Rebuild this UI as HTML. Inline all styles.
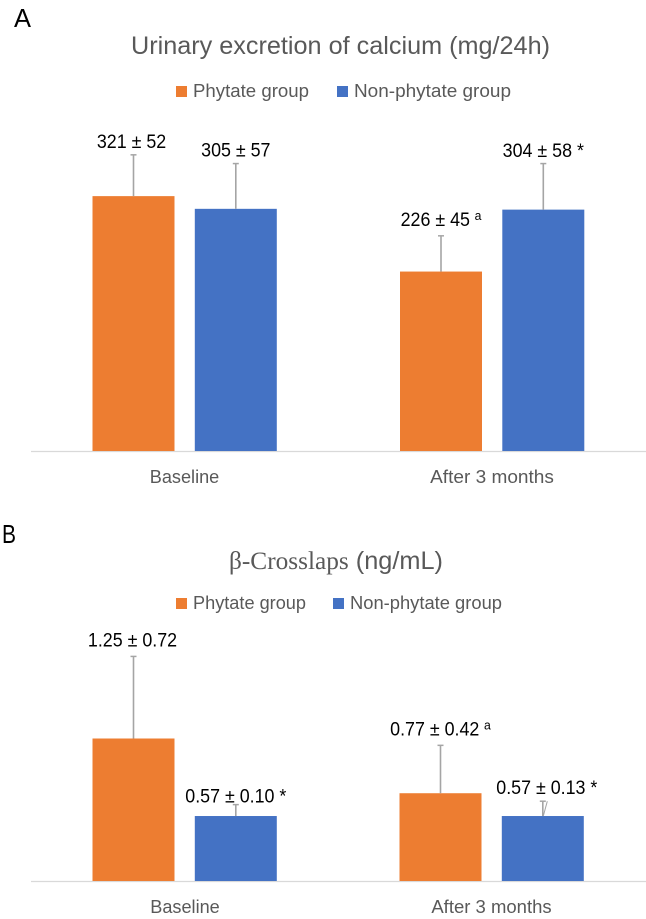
<!DOCTYPE html>
<html lang="en">
<head>
<meta charset="utf-8">
<title>Urinary calcium and β-Crosslaps</title>
<style>
  html, body { margin: 0; padding: 0; background: #fff; }
  svg { display: block; }
  text { font-family: "Liberation Sans", sans-serif; }
  .panel { font-size: 26px; fill: #000; }
  .title { font-size: 25px; fill: #595959; }
  .legend { font-size: 18.5px; fill: #595959; }
  .cat { font-size: 18.5px; fill: #595959; }
  .val { font-size: 19px; fill: #000; }
</style>
</head>
<body>
<svg id="figure" xmlns="http://www.w3.org/2000/svg" width="646" height="919" viewBox="0 0 646 919">
  <rect x="0" y="0" width="646" height="919" fill="#ffffff"/>

  <text class="panel" x="14" y="27" textLength="17" lengthAdjust="spacingAndGlyphs">A</text>
  <text class="title" x="131" y="54" textLength="419" lengthAdjust="spacingAndGlyphs">Urinary excretion of calcium (mg/24h)</text>
  <rect x="176" y="86" width="11" height="11" fill="#ed7d31"/>
  <text class="legend" x="193" y="97" textLength="116" lengthAdjust="spacingAndGlyphs">Phytate group</text>
  <rect x="337" y="86" width="11" height="11" fill="#4472c4"/>
  <text class="legend" x="354" y="97" textLength="157" lengthAdjust="spacingAndGlyphs">Non-phytate group</text>

  <text class="panel" x="2" y="543" textLength="14" lengthAdjust="spacingAndGlyphs">B</text>
  <text class="title" x="229" y="569" textLength="214" lengthAdjust="spacingAndGlyphs"><tspan style="font-family:'Liberation Serif',serif">β-Crosslaps</tspan> (ng/mL)</text>
  <rect x="176" y="598" width="11" height="11" fill="#ed7d31"/>
  <text class="legend" x="193" y="609" textLength="113" lengthAdjust="spacingAndGlyphs">Phytate group</text>
  <rect x="333" y="598" width="11" height="11" fill="#4472c4"/>
  <text class="legend" x="350" y="609" textLength="152" lengthAdjust="spacingAndGlyphs">Non-phytate group</text>
</svg>

<script>
// ---- data ----
const categories = ["Baseline", "After 3 months"];
const calciumPhytateMean = [321, 226];
const calciumPhytateSd = [52, 45];
const calciumNonPhytateMean = [305, 304];
const calciumNonPhytateSd = [57, 58];
const calciumPhytateMark = ["", "a"];
const calciumNonPhytateMark = ["", "*"];
const crosslapsPhytateMean = [1.25, 0.77];
const crosslapsPhytateSd = [0.72, 0.42];
const crosslapsNonPhytateMean = [0.57, 0.57];
const crosslapsNonPhytateSd = [0.10, 0.13];
const crosslapsPhytateMark = ["", "a"];
const crosslapsNonPhytateMark = ["*", "*"];

// ---- drawing ----
const NS = "http://www.w3.org/2000/svg";
const figure = document.getElementById("figure");

function make(tag, attrs) {
  const el = document.createElementNS(NS, tag);
  for (const k in attrs) el.setAttribute(k, attrs[k]);
  figure.appendChild(el);
  return el;
}

function drawChart(cfg) {
  const y = v => cfg.axisY - v * cfg.pxPerUnit;

  const axis = make("line", { x1: 31, x2: 646, y1: cfg.axisY + 0.5, y2: cfg.axisY + 0.5, stroke: "#d9d9d9", "stroke-width": 1.3 });
  
  

  categories.forEach((cat, c) => {
    const label = make("text", { class: "cat", "text-anchor": "middle", transform: "translate(" + cfg.catX[c] + "," + cfg.catY + ") scale(" + cfg.catScale[c] + ",1)" });
    label.textContent = cat;
    
    

    cfg.series.forEach((s, i) => {
      const mean = s.mean[c], sd = s.sd[c];
      const left = cfg.groupX[c] + i * cfg.step;
      const mid = left + cfg.barW / 2;
      const top = y(mean), errTop = y(mean + sd);

      const bar = make("rect", { x: left, y: top, width: cfg.barW, height: cfg.axisY - top, fill: s.color });
      
      

      const stem = make("line", { x1: mid, x2: mid, y1: top, y2: errTop, stroke: "#a5a5a5", "stroke-width": 1.6 });
      
      

      const cap = make("line", { x1: mid - 3, x2: mid + 3, y1: errTop, y2: errTop, stroke: "#a5a5a5", "stroke-width": 1.5 });
      
      

      if (cfg.strayTick && cfg.strayTick[0] === i && cfg.strayTick[1] === c) {
        const stray = make("line", { x1: mid + 0.5, x2: mid + 4.5, y1: top, y2: errTop, stroke: "#a5a5a5", "stroke-width": 1 });
        
        
      }

      const text = make("text", { class: "val", "text-anchor": "middle", transform: "translate(" + (mid + cfg.labelShift[i][c]) + "," + (errTop - cfg.labelLift[i][c]) + ") scale(0.94,1)" });
      
      
      const main = document.createElementNS(NS, "tspan");
      main.textContent = mean.toFixed(cfg.digits) + " ± " + sd.toFixed(cfg.digits);
      text.appendChild(main);
      const mark = s.mark[c];
      if (mark === "a") {
        const sup = document.createElementNS(NS, "tspan");
        sup.setAttribute("dy", "-6");
        sup.setAttribute("dx", "5");
        sup.setAttribute("font-size", "13");
        sup.textContent = mark;
        text.appendChild(sup);
      } else if (mark) {
        const star = document.createElementNS(NS, "tspan");
        star.textContent = " " + mark;
        text.appendChild(star);
      }
    });
  });
}

drawChart({
  id: "chart-a", axisY: 451, pxPerUnit: 0.794, digits: 0,
  groupX: [92.5, 400], step: 102.3, barW: 82,
  catX: [184.5, 492], catY: 483, catScale: [0.98, 1.03],
  labelLift: [[7, 10], [7, 6.5]],
  labelShift: [[-2, 0], [0, 0]],
  series: [
    { key: "phytate", color: "#ed7d31", mean: calciumPhytateMean, sd: calciumPhytateSd, mark: calciumPhytateMark },
    { key: "non-phytate", color: "#4472c4", mean: calciumNonPhytateMean, sd: calciumNonPhytateSd, mark: calciumNonPhytateMark }
  ]
});

drawChart({
  id: "chart-b", axisY: 881, pxPerUnit: 114, digits: 2,
  groupX: [92.5, 399.5], step: 102.3, barW: 82,
  catX: [185, 491.5], catY: 913, catScale: [0.98, 1.0],
  labelLift: [[10, 10], [2, 7]],
  labelShift: [[-1, 0], [0, 4]],
  strayTick: [1, 1],
  series: [
    { key: "phytate", color: "#ed7d31", mean: crosslapsPhytateMean, sd: crosslapsPhytateSd, mark: crosslapsPhytateMark },
    { key: "non-phytate", color: "#4472c4", mean: crosslapsNonPhytateMean, sd: crosslapsNonPhytateSd, mark: crosslapsNonPhytateMark }
  ]
});
</script>
</body>
</html>
